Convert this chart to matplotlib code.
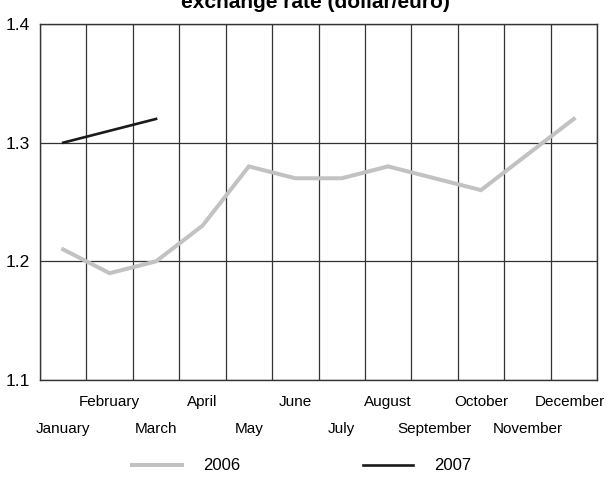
import matplotlib
matplotlib.use("Agg")
import matplotlib.pyplot as plt

months = ["January", "February", "March", "April", "May", "June", "July",
          "August", "September", "October", "November", "December"]
rate_2006 = [1.21, 1.19, 1.20, 1.23, 1.28, 1.27, 1.27, 1.28, 1.27, 1.26, 1.29, 1.32]
rate_2007 = [1.30, 1.31, 1.32]
y_ticks = [1.1, 1.2, 1.3, 1.4]

plt.rcParams["font.family"] = ["Liberation Sans", "DejaVu Sans"]

fig = plt.figure(figsize=(6.06, 5.03), dpi=100)
ax = fig.add_axes([40 / 606, 1 - 380 / 503, 557 / 606, 356 / 503])

x06 = [i + 0.5 for i in range(len(rate_2006))]
x07 = [i + 0.5 for i in range(len(rate_2007))]
l06, = ax.plot(x06, rate_2006, color="#c2c2c2", lw=2.9, solid_joinstyle="miter")
l07, = ax.plot(x07, rate_2007, color="#1a1a1a", lw=1.9)

ax.set_xlim(0, 12)
ax.set_ylim(1.1, 1.4)
ax.set_yticks(y_ticks)
ax.set_yticklabels([f"{v:.1f}" for v in y_ticks], fontsize=12.5)
ax.set_xticks(range(13))
ax.set_xticklabels([])
ax.grid(True, color="#333333", lw=0.9)
ax.tick_params(length=0, pad=7)
for s in ax.spines.values():
    s.set_color("#333333")
    s.set_linewidth(1)

# month labels in two staggered rows
for i, m in enumerate(months):
    y = -0.062 if i % 2 == 1 else -0.139
    xpos = i + 0.5
    if i == len(months) - 1:
        xpos -= 0.08  # keep December inside the figure
    ax.text(xpos, y, m, transform=ax.get_xaxis_transform(), ha="center",
            va="center", fontsize=11)

fig.text(315 / 606, 1 - 3 / 503, "exchange rate (dollar/euro)", ha="center", va="center",
         fontsize=15, fontweight="bold")

fig.legend([l06, l07], ["2006", "2007"], loc="center", bbox_to_anchor=(0.4975, 1 - 466 / 503),
           ncol=2, frameon=False, fontsize=12, handlelength=3.0, columnspacing=7.4,
           handletextpad=1.26)

fig.savefig("out.png", dpi=100)
